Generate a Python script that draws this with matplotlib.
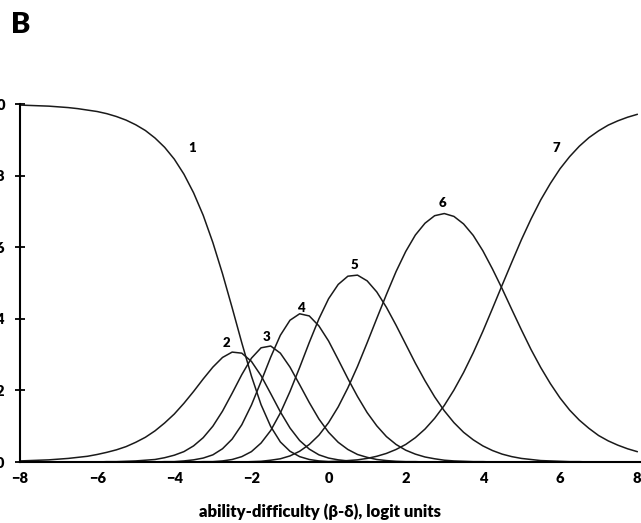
import numpy as np
import matplotlib
matplotlib.use('Agg')
import matplotlib.pyplot as plt

plt.rcParams['font.family'] = ['Lato', 'DejaVu Sans']
plt.rcParams['font.weight'] = 'heavy'

# ability-difficulty grid, logits (step 0.25)
logit = np.linspace(-8, 8, 65)

# category probability curves
cat1 = [0.997, 0.996, 0.995, 0.994, 0.992, 0.990, 0.987, 0.983, 0.979, 0.973, 0.965, 0.955, 0.942,
        0.926, 0.905, 0.879, 0.846, 0.804, 0.752, 0.689, 0.613, 0.526, 0.431, 0.333, 0.240, 0.160,
        0.099, 0.056, 0.030, 0.015, 0.007, 0.003, 0.001, 0.001, 0.000, 0.000, 0.000, 0.000, 0.000,
        0.000, 0.000, 0.000, 0.000, 0.000, 0.000, 0.000, 0.000, 0.000, 0.000, 0.000, 0.000, 0.000,
        0.000, 0.000, 0.000, 0.000, 0.000, 0.000, 0.000, 0.000, 0.000, 0.000, 0.000, 0.000, 0.000]
cat2 = [0.003, 0.004, 0.005, 0.006, 0.008, 0.010, 0.013, 0.016, 0.021, 0.027, 0.034, 0.043, 0.055,
        0.069, 0.087, 0.109, 0.134, 0.164, 0.197, 0.232, 0.265, 0.292, 0.307, 0.304, 0.281, 0.241,
        0.191, 0.140, 0.095, 0.060, 0.036, 0.020, 0.011, 0.006, 0.003, 0.001, 0.001, 0.000, 0.000,
        0.000, 0.000, 0.000, 0.000, 0.000, 0.000, 0.000, 0.000, 0.000, 0.000, 0.000, 0.000, 0.000,
        0.000, 0.000, 0.000, 0.000, 0.000, 0.000, 0.000, 0.000, 0.000, 0.000, 0.000, 0.000, 0.000]
cat3 = [0.000, 0.000, 0.000, 0.000, 0.000, 0.000, 0.000, 0.000, 0.000, 0.001, 0.001, 0.002, 0.003,
        0.005, 0.007, 0.012, 0.019, 0.029, 0.045, 0.068, 0.100, 0.142, 0.192, 0.244, 0.290, 0.319,
        0.324, 0.304, 0.265, 0.216, 0.166, 0.120, 0.083, 0.055, 0.035, 0.021, 0.013, 0.007, 0.004,
        0.002, 0.001, 0.001, 0.000, 0.000, 0.000, 0.000, 0.000, 0.000, 0.000, 0.000, 0.000, 0.000,
        0.000, 0.000, 0.000, 0.000, 0.000, 0.000, 0.000, 0.000, 0.000, 0.000, 0.000, 0.000, 0.000]
cat4 = [0.000, 0.000, 0.000, 0.000, 0.000, 0.000, 0.000, 0.000, 0.000, 0.000, 0.000, 0.000, 0.000,
        0.000, 0.000, 0.001, 0.001, 0.003, 0.006, 0.011, 0.020, 0.037, 0.064, 0.104, 0.159, 0.225,
        0.293, 0.354, 0.396, 0.414, 0.408, 0.380, 0.338, 0.286, 0.233, 0.183, 0.138, 0.101, 0.071,
        0.049, 0.033, 0.022, 0.014, 0.009, 0.005, 0.003, 0.002, 0.001, 0.001, 0.000, 0.000, 0.000,
        0.000, 0.000, 0.000, 0.000, 0.000, 0.000, 0.000, 0.000, 0.000, 0.000, 0.000, 0.000, 0.000]
cat5 = [0.000, 0.000, 0.000, 0.000, 0.000, 0.000, 0.000, 0.000, 0.000, 0.000, 0.000, 0.000, 0.000,
        0.000, 0.000, 0.000, 0.000, 0.000, 0.000, 0.001, 0.001, 0.003, 0.007, 0.015, 0.029, 0.053,
        0.088, 0.137, 0.197, 0.264, 0.334, 0.400, 0.456, 0.496, 0.519, 0.522, 0.506, 0.475, 0.432,
        0.382, 0.329, 0.276, 0.227, 0.182, 0.143, 0.110, 0.083, 0.062, 0.045, 0.032, 0.022, 0.015,
        0.010, 0.007, 0.004, 0.003, 0.002, 0.001, 0.001, 0.000, 0.000, 0.000, 0.000, 0.000, 0.000]
cat6 = [0.000, 0.000, 0.000, 0.000, 0.000, 0.000, 0.000, 0.000, 0.000, 0.000, 0.000, 0.000, 0.000,
        0.000, 0.000, 0.000, 0.000, 0.000, 0.000, 0.000, 0.000, 0.000, 0.000, 0.000, 0.001, 0.002,
        0.005, 0.009, 0.017, 0.030, 0.049, 0.075, 0.110, 0.154, 0.207, 0.267, 0.333, 0.401, 0.468,
        0.532, 0.588, 0.634, 0.667, 0.688, 0.694, 0.686, 0.665, 0.633, 0.590, 0.539, 0.484, 0.426,
        0.369, 0.314, 0.264, 0.219, 0.179, 0.145, 0.117, 0.094, 0.074, 0.059, 0.047, 0.037, 0.029]
cat7 = [0.000, 0.000, 0.000, 0.000, 0.000, 0.000, 0.000, 0.000, 0.000, 0.000, 0.000, 0.000, 0.000,
        0.000, 0.000, 0.000, 0.000, 0.000, 0.000, 0.000, 0.000, 0.000, 0.000, 0.000, 0.000, 0.000,
        0.000, 0.000, 0.000, 0.000, 0.000, 0.001, 0.001, 0.002, 0.004, 0.006, 0.010, 0.016, 0.024,
        0.035, 0.049, 0.068, 0.092, 0.122, 0.158, 0.201, 0.250, 0.305, 0.365, 0.429, 0.494, 0.558,
        0.621, 0.679, 0.732, 0.778, 0.819, 0.853, 0.882, 0.906, 0.925, 0.941, 0.953, 0.963, 0.971]

curves = [cat1, cat2, cat3, cat4, cat5, cat6, cat7]
curve_labels = ['1', '2', '3', '4', '5', '6', '7']
label_x = [-3.54, -2.66, -1.62, -0.71, 0.66, 2.94, 5.90]
label_y = [0.877, 0.332, 0.349, 0.430, 0.550, 0.723, 0.877]

yticks = [0.0, 0.2, 0.4, 0.6, 0.8, 1.0]
xticks = [-8, -6, -4, -2, 0, 2, 4, 6, 8]

fig = plt.figure(figsize=(6.41, 5.23), dpi=100)
ax = fig.add_axes([20 / 641, 61 / 523, 621 / 641, 358 / 523])

for c in curves:
    ax.plot(logit, c, color='#1a1a1a', lw=1.1, clip_on=False)

for t, lx, ly in zip(curve_labels, label_x, label_y):
    ax.text(lx, ly, t, ha='center', va='center', fontsize=9.5, fontweight='heavy')

ax.set_xlim(-8, 8.1)
ax.set_ylim(0, 1)
ax.set_xticks(xticks)
ax.set_yticks(yticks)
ax.set_yticklabels(['%.1f' % v for v in yticks])
ax.tick_params(axis='x', length=0, pad=7, labelsize=10.5)
ax.tick_params(axis='y', direction='inout', length=7, width=1.3, pad=7, labelsize=10.5)

for s in ['top', 'right']:
    ax.spines[s].set_visible(False)
for s in ['left', 'bottom']:
    ax.spines[s].set_linewidth(1.5)

ax.set_xlabel('ability-difficulty (β-δ), logit units', fontsize=12, fontweight='heavy')
ax.xaxis.set_label_coords(0.483, -0.115)

fig.text(11 / 641, 1 - 25 / 523, 'B', fontsize=21, fontweight='heavy', va='center', ha='left')

fig.savefig('out.png', dpi=100)
